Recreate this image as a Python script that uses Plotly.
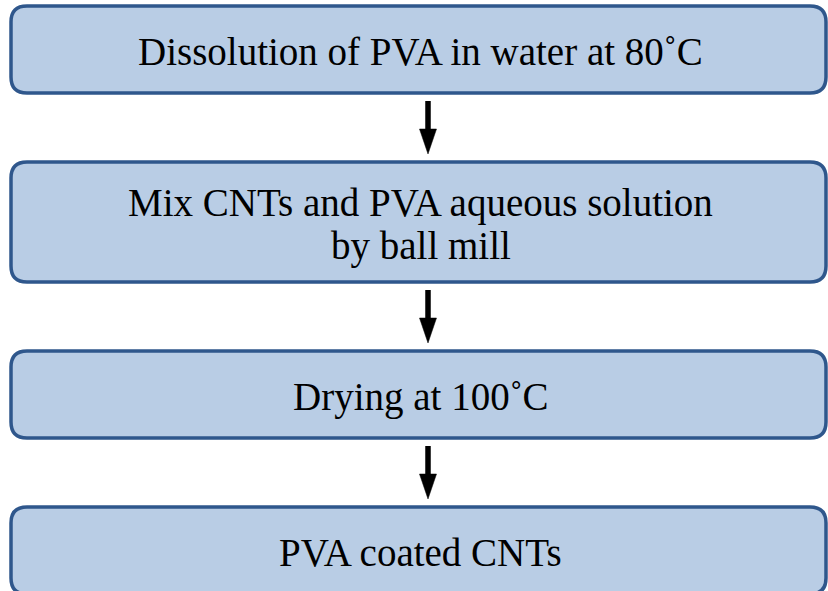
import plotly.graph_objects as go

# ---- data ----
steps = [
    "Dissolution of PVA in water at 80˚C",
    "Mix CNTs and PVA aqueous solution<br>by ball mill",
    "Drying at 100˚C",
    "PVA coated CNTs",
]

# ---- layout constants ----
W, H = 828, 591
X0, X1 = 11, 826
TOP0 = 6
BASE_H = 87
EXTRA_LINE_H = 33
GAP = 69
R = 16
LINE_GAP = 43
FILL = "#B9CDE5"
EDGE = "#2F578C"
FONT = dict(family="Liberation Serif, Times New Roman, serif", size=39, color="black")
ARROW_X = 428

fig = go.Figure()
fig.add_trace(go.Scatter(x=[0, W], y=[0, H], mode="markers",
                         marker=dict(opacity=0), hoverinfo="skip", showlegend=False))

def rounded(x0, y0, x1, y1, r):
    return (f"M {x0+r},{y0} L {x1-r},{y0} Q {x1},{y0} {x1},{y0+r} "
            f"L {x1},{y1-r} Q {x1},{y1} {x1-r},{y1} L {x0+r},{y1} "
            f"Q {x0},{y1} {x0},{y1-r} L {x0},{y0+r} Q {x0},{y0} {x0+r},{y0} Z")

shapes = []
annotations = []
boxes = []
top = TOP0
for label in steps:
    lines = label.split("<br>")
    h = BASE_H + EXTRA_LINE_H * (len(lines) - 1)
    bottom = top + h
    boxes.append((top, bottom))
    shapes.append(dict(type="path", xref="x", yref="y",
                       path=rounded(X0, top, X1, bottom, R),
                       fillcolor=FILL, line=dict(color=EDGE, width=3.5), layer="below"))
    cy = (top + bottom) / 2 + 2
    n = len(lines)
    for i, ln in enumerate(lines):
        y = cy + (i - (n - 1) / 2) * LINE_GAP
        annotations.append(dict(x=(X0 + X1) / 2 + 2, y=y, xref="x", yref="y",
                                text=ln, showarrow=False, font=FONT,
                                xanchor="center", yanchor="middle"))
    top = bottom + GAP

# arrows between boxes
HEAD_L, HEAD_W, SHAFT_W = 25, 17, 5.5
for (t0, b0), (t1, b1) in zip(boxes[:-1], boxes[1:]):
    ys = b0 + 8
    ye = t1 - 8
    shapes.append(dict(type="line", xref="x", yref="y", x0=ARROW_X, x1=ARROW_X,
                       y0=ys, y1=ye - HEAD_L + 2, line=dict(color="black", width=SHAFT_W)))
    shapes.append(dict(type="path", xref="x", yref="y",
                       path=f"M {ARROW_X-HEAD_W/2},{ye-HEAD_L} L {ARROW_X+HEAD_W/2},{ye-HEAD_L} L {ARROW_X},{ye} Z",
                       fillcolor="black", line=dict(color="black", width=0.5)))

fig.update_layout(
    width=W, height=H, margin=dict(l=0, r=0, t=0, b=0),
    paper_bgcolor="white", plot_bgcolor="white",
    xaxis=dict(range=[0, W], visible=False, fixedrange=True),
    yaxis=dict(range=[H, 0], visible=False, fixedrange=True),
    shapes=shapes, annotations=annotations, showlegend=False,
)
fig.write_html("out.html", config={"displayModeBar": False},
               post_script="document.body.style.margin='0';document.body.style.overflow='hidden';")
